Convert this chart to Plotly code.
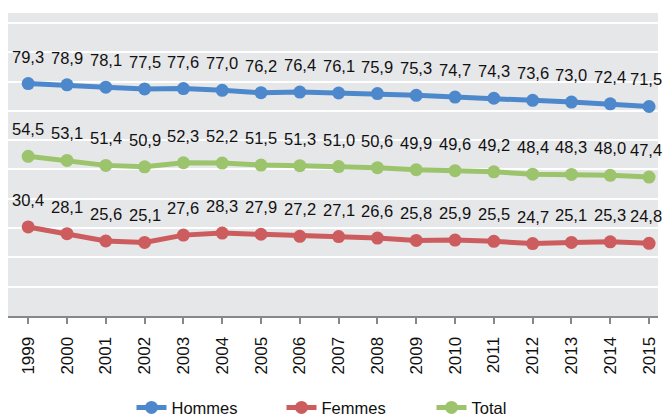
import plotly.graph_objects as go

years = [str(y) for y in range(1999, 2016)]
hommes = [79.3, 78.9, 78.1, 77.5, 77.6, 77.0, 76.2, 76.4, 76.1, 75.9, 75.3, 74.7, 74.3, 73.6, 73.0, 72.4, 71.5]
femmes = [30.4, 28.1, 25.6, 25.1, 27.6, 28.3, 27.9, 27.2, 27.1, 26.6, 25.8, 25.9, 25.5, 24.7, 25.1, 25.3, 24.8]
total = [54.5, 53.1, 51.4, 50.9, 52.3, 52.2, 51.5, 51.3, 51.0, 50.6, 49.9, 49.6, 49.2, 48.4, 48.3, 48.0, 47.4]

series = [("Hommes", hommes, "#4d88cc"), ("Femmes", femmes, "#cc5c5e"), ("Total", total, "#9cc46c")]

fig = go.Figure()
annotations = []
for name, vals, col in series:
    fig.add_trace(go.Scatter(
        x=years, y=vals, name=name, mode="lines+markers",
        line=dict(color=col, width=5),
        marker=dict(color=col, size=13, symbol="circle"),
    ))
    for i, v in enumerate(vals):
        annotations.append(dict(
            x=i, y=v, xref="x", yref="y", text=f"{v:.1f}".replace(".", ","), showarrow=False,
            yshift=27, xshift=(-3 if i == len(vals) - 1 else 0),
            font=dict(size=16.5, color="#111111", family="Liberation Sans, Arial, sans-serif"),
        ))

fig.update_layout(
    width=663, height=418,
    margin=dict(l=8, r=5, t=13, b=102, autoexpand=False),
    paper_bgcolor="white", plot_bgcolor="#e6e7e9",
    font=dict(family="Liberation Sans, Arial, sans-serif", size=15, color="#111111"),
    annotations=annotations,
    showlegend=True,
    legend=dict(orientation="h", x=0.19, xanchor="left", y=-0.245, yanchor="top",
                font=dict(size=16.5), entrywidth=105, entrywidthmode="pixels",
                traceorder="normal", bgcolor="rgba(0,0,0,0)"),
    xaxis=dict(type="category", range=[-0.52, 16.23], showgrid=False, tickangle=-90,
               ticks="outside", ticklen=6, tickcolor="#888888", tickwidth=1.5, showline=True,
               linecolor="#888888", linewidth=2, tickfont=dict(size=17), automargin=False,
               ticklabelstandoff=6),
    yaxis=dict(range=[0, 103.4], dtick=10, showgrid=True, gridcolor="white", gridwidth=2,
               showticklabels=False, zeroline=False, showline=False, automargin=False),
)

fig.write_html("out.html", config={"displayModeBar": False},
               post_script="document.body.style.margin='0px';document.body.style.overflow='hidden';")
